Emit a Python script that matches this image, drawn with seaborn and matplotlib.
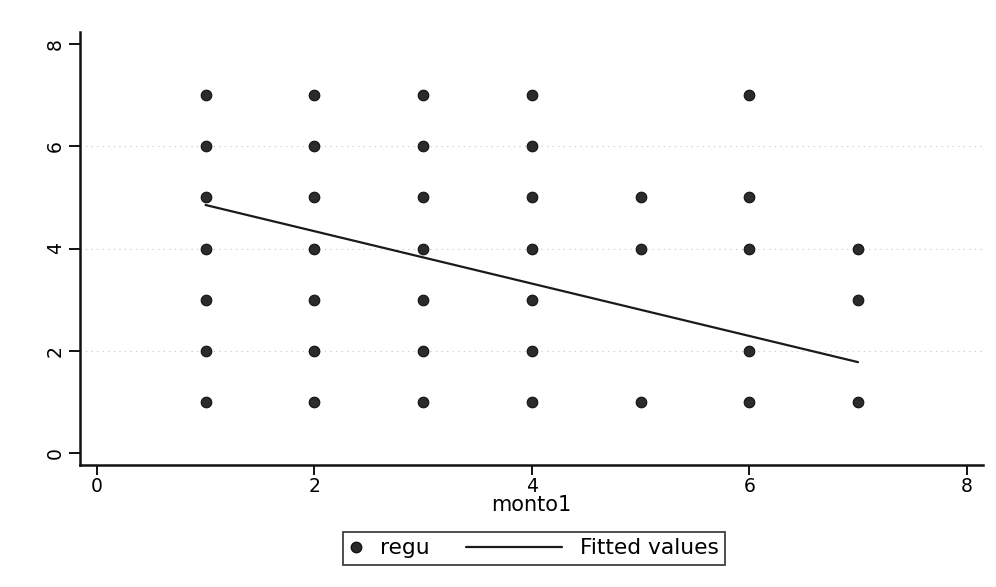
import numpy as np
import pandas as pd
import matplotlib
matplotlib.use("Agg")
import matplotlib.pyplot as plt
import seaborn as sns
from matplotlib.lines import Line2D
from matplotlib.legend_handler import HandlerLine2D

# ---- data ----
monto1 = [1, 1, 1, 1, 1, 1, 1,
          2, 2, 2, 2, 2, 2, 2,
          3, 3, 3, 3, 3, 3, 3,
          4, 4, 4, 4, 4, 4, 4,
          5, 5, 5,
          6, 6, 6, 6, 6,
          7, 7, 7]
regu = [1, 2, 3, 4, 5, 6, 7,
        1, 2, 3, 4, 5, 6, 7,
        1, 2, 3, 4, 5, 6, 7,
        1, 2, 3, 4, 5, 6, 7,
        1, 4, 5,
        1, 2, 4, 5, 7,
        1, 3, 4]
fit_x = [1, 7]
fit_y = [4.85, 1.78]
x_ticks = [0, 2, 4, 6, 8]
y_ticks = [0, 2, 4, 6, 8]

df = pd.DataFrame({"monto1": monto1, "regu": regu})
fit = pd.DataFrame({"monto1": fit_x, "fitted": fit_y})

sns.set_style("white")
plt.rcParams["font.family"] = ["DejaVu Sans"]

fig = plt.figure(figsize=(9.96, 5.87), dpi=100)
ax = fig.add_axes([80 / 996, 1 - 465 / 587, (983 - 80) / 996, (465 - 32) / 587])

for yv in [2, 4, 6]:
    ax.axhline(yv, color="#c4c4c4", lw=0.8, ls=(0, (1, 4)), zorder=0)

sns.scatterplot(data=df, x="monto1", y="regu", ax=ax, color="#2b2b2b",
                s=58, edgecolor="#111111", linewidth=0.8, zorder=3, legend=False)
sns.lineplot(data=fit, x="monto1", y="fitted", ax=ax, color="#1a1a1a",
             lw=1.6, zorder=2, legend=False)

ax.set_xlim(-0.155, 8.15)
ax.set_ylim(-0.23, 8.23)
ax.set_xticks(x_ticks)
ax.set_yticks(y_ticks)
ax.set_xlabel("monto1", fontsize=15, labelpad=-1, color="#000000")
ax.set_ylabel("")
ax.tick_params(axis="both", direction="out", length=8, width=1.4,
               color="#111111", labelcolor="#000000", labelsize=13.5, pad=3,
               left=True, bottom=True)
ax.tick_params(axis="x", length=7, pad=2)
for lab in ax.get_yticklabels():
    lab.set_rotation(90)
    lab.set_va("center")
for s in ["top", "right"]:
    ax.spines[s].set_visible(False)
for s in ["left", "bottom"]:
    ax.spines[s].set_color("#111111")
    ax.spines[s].set_linewidth(1.8)


class LongLine(HandlerLine2D):
    def __init__(self, extra, **kw):
        super().__init__(**kw)
        self.extra = extra

    def create_artists(self, legend, orig_handle, xdescent, ydescent,
                       width, height, fontsize, trans):
        arts = super().create_artists(legend, orig_handle, xdescent, ydescent,
                                      width, height, fontsize, trans)
        for a in arts:
            if isinstance(a, Line2D) and a.get_linestyle() not in ("None", ""):
                xd = np.asarray(a.get_xdata(), dtype=float)
                yd = np.asarray(a.get_ydata(), dtype=float)
                if len(xd) >= 2:
                    y0 = float(np.mean(yd))
                    a.set_data([xd.min() - self.extra, xd.max()], [y0, y0])
        return arts


h_dot = Line2D([], [], ls="None", marker="o", markersize=7.5,
               markerfacecolor="#2b2b2b", markeredgecolor="#111111")
h_line = Line2D([], [], color="#1a1a1a", lw=1.6)
leg = fig.legend([h_dot, h_line], ["regu", "Fitted values"],
                 loc="center", bbox_to_anchor=(534 / 996, 1 - 548.5 / 587),
                 ncol=2, fontsize=15.7, frameon=True, fancybox=False,
                 handlelength=0.6, handletextpad=0.8, columnspacing=5.5,
                 borderpad=0.3, numpoints=1,
                 handler_map={h_line: LongLine(extra=60)})
leg.get_frame().set_edgecolor("#111111")
leg.get_frame().set_linewidth(1.3)
for t in leg.get_texts():
    t.set_color("#000000")

fig.savefig("out.png", dpi=100, facecolor="white")
